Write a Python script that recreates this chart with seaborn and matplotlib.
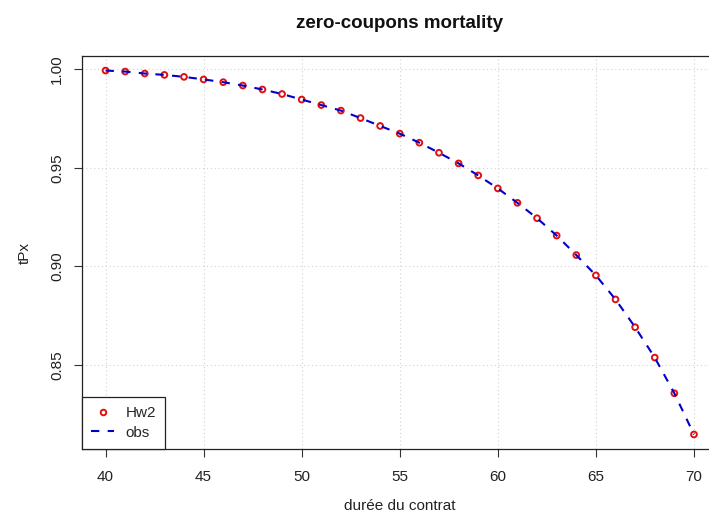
import matplotlib
matplotlib.use("Agg")
import matplotlib.pyplot as plt
from matplotlib.lines import Line2D
import seaborn as sns
import pandas as pd

# ---- data ----
ages = [40, 41, 42, 43, 44, 45, 46, 47, 48, 49, 50, 51, 52, 53, 54, 55,
        56, 57, 58, 59, 60, 61, 62, 63, 64, 65, 66, 67, 68, 69, 70]
hw2 = [0.9993, 0.9988, 0.9978, 0.9971, 0.9961, 0.9948, 0.9934, 0.9917,
       0.9897, 0.9874, 0.9846, 0.9818, 0.9790, 0.9752, 0.9712, 0.9673,
       0.9627, 0.9576, 0.9522, 0.9461, 0.9395, 0.9322, 0.9244, 0.9156,
       0.9057, 0.8954, 0.8832, 0.8691, 0.8537, 0.8356, 0.8147]
obs = [0.9993, 0.9988, 0.9978, 0.9971, 0.9961, 0.9948, 0.9934, 0.9917,
       0.9897, 0.9874, 0.9846, 0.9818, 0.9790, 0.9752, 0.9712, 0.9673,
       0.9627, 0.9576, 0.9522, 0.9461, 0.9395, 0.9322, 0.9244, 0.9156,
       0.9057, 0.8954, 0.8832, 0.8691, 0.8537, 0.8356, 0.8147]
x_ticks = [40, 45, 50, 55, 60, 65, 70]
y_ticks = [0.85, 0.90, 0.95, 1.00]
y_ticklabels = ["0.85", "0.90", "0.95", "1.00"]
title = "zero-coupons mortality"
xlabel = "durée du contrat"
ylabel = "tPx"

df = pd.DataFrame({"age": ages, "hw2": hw2, "obs": obs})

sns.set_style("white")
plt.rcParams["font.family"] = ["Liberation Sans", "DejaVu Sans"]

W, H = 709, 516
fig = plt.figure(figsize=(W / 100, H / 100), dpi=100)
left, right, top, bottom = 82, 717.5, 56, 449
ax = fig.add_axes([left / W, 1 - bottom / H, (right - left) / W, (bottom - top) / H])

# R-like 4% axis extension
xr = max(ages) - min(ages)
ax.set_xlim(min(ages) - 0.04 * xr, max(ages) + 0.04 * xr)
ymin, ymax = min(min(hw2), min(obs)), max(max(hw2), max(obs))
yr = ymax - ymin
ax.set_ylim(ymin - 0.04 * yr, ymax + 0.04 * yr)

# grid
for xv in x_ticks:
    ax.axvline(xv, color="#d3d3d3", lw=0.8, linestyle=(0, (1, 2.5)), zorder=0)
for yv in y_ticks:
    ax.axhline(yv, color="#d3d3d3", lw=0.8, linestyle=(0, (1, 2.5)), zorder=0)

red = "#E01010"
blue = "#0000C8"
sns.scatterplot(data=df, x="age", y="hw2", ax=ax, marker="o", s=17,
                facecolor="none", edgecolor=red, linewidth=1.4, zorder=3,
                legend=False)
sns.lineplot(data=df, x="age", y="obs", ax=ax, color=blue, lw=1.5,
             dashes=False, zorder=4, legend=False)
ax.lines[-1].set_dashes([4, 4])

ax.set_xticks(x_ticks)
ax.set_xticklabels([str(v) for v in x_ticks])
ax.set_yticks(y_ticks)
ax.set_yticklabels(y_ticklabels, rotation=90, va="center")
ax.tick_params(axis="both", direction="out", length=6, width=0.8,
               color="#333333", labelsize=11, labelcolor="#222222",
               bottom=True, left=True)
ax.tick_params(axis="x", pad=9)
ax.tick_params(axis="y", pad=7)

for sp in ax.spines.values():
    sp.set_visible(True)
    sp.set_color("#222222")
    sp.set_linewidth(0.9)

ax.set_xlabel(xlabel, fontsize=11, color="#222222", labelpad=11)
ax.set_ylabel(ylabel, fontsize=11, color="#222222", labelpad=13)

fig.text(399 / W, 1 - 23 / H, title, fontsize=13.5, fontweight="bold",
         ha="center", va="center", color="#111111")

handles = [
    Line2D([], [], marker="o", linestyle="none", markerfacecolor="none",
           markeredgecolor=red, markeredgewidth=1.4, markersize=4),
    Line2D([], [], color=blue, lw=1.5, dashes=[4, 4]),
]
leg = ax.legend(handles, ["Hw2", "obs"], loc="lower left", frameon=True,
                fancybox=False, edgecolor="#222222", borderaxespad=0,
                fontsize=11, handlelength=1.5, handletextpad=0.75,
                labelspacing=0.35, borderpad=0.6)
leg.get_frame().set_linewidth(0.9)
leg.get_frame().set_facecolor("white")
leg.get_frame().set_alpha(1)

fig.savefig("out.png", dpi=100)
